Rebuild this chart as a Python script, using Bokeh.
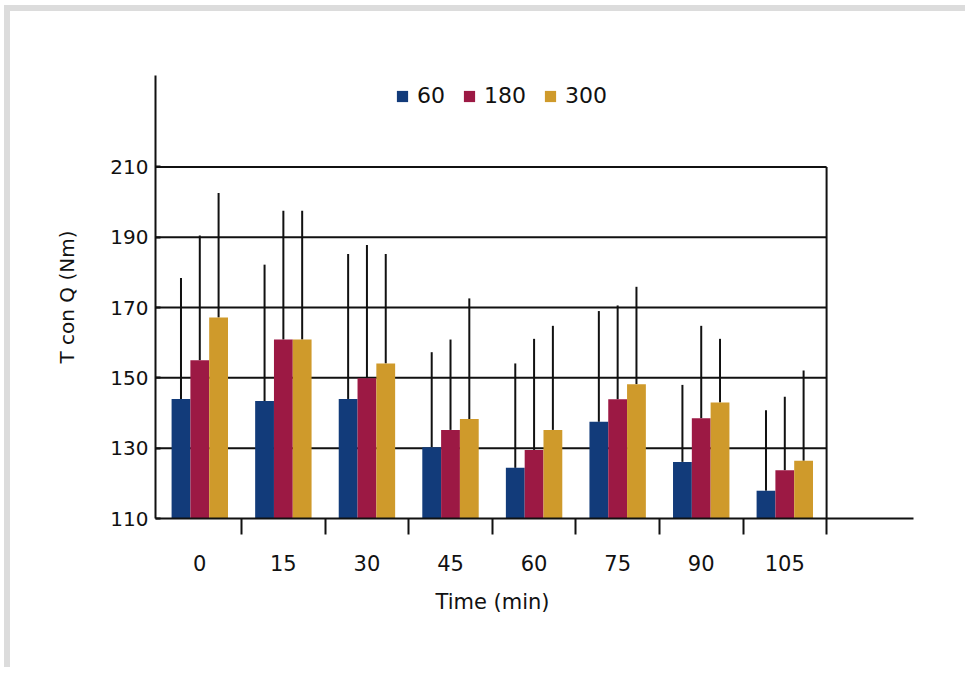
from bokeh.plotting import figure
from bokeh.models import FixedTicker, Legend, LegendItem, ColumnDataSource, Title
from bokeh.embed import file_html
from bokeh.resources import INLINE

# ---- data ----
times = ["0", "15", "30", "45", "60", "75", "90", "105"]
series = ["60", "180", "300"]
mean_60 = [144.0, 143.4, 144.0, 130.3, 124.4, 137.5, 126.1, 117.9]
mean_180 = [155.0, 160.9, 149.9, 135.2, 129.5, 143.9, 138.5, 123.7]
mean_300 = [167.2, 160.9, 154.1, 138.3, 135.2, 148.2, 143.0, 126.4]
sd_60 = [34.4, 38.8, 41.2, 27.0, 29.7, 31.5, 21.9, 22.9]
sd_180 = [35.5, 36.6, 37.9, 25.7, 31.6, 26.7, 26.3, 20.9]
sd_300 = [35.4, 36.6, 31.1, 34.3, 29.6, 27.7, 18.1, 25.7]
y_ticks = [110, 130, 150, 170, 190, 210]

colors = ["#123b7a", "#9c1944", "#cf9a2b"]
FONT = "DejaVu Sans"
INK = "#111111"

n = len(times)
centers = [i + 0.5 for i in range(n)]
bounds = [i + 1 for i in range(n)]
bw = 0.225
offsets = [-bw, 0.0, bw]
x_start, x_end = -0.03, n + 1.04

p = figure(width=961, height=662, x_range=(x_start, x_end), y_range=(y_ticks[0], 236),
           output_backend="svg", toolbar_location=None,
           min_border_left=145, min_border_right=58, min_border_top=64, min_border_bottom=155)
p.styles = {"margin-left": "4px", "margin-top": "5px",
            "border-left": "6px solid #dcdcdc", "border-top": "6px solid #dcdcdc"}
p.outline_line_color = None
p.xgrid.visible = False
p.ygrid.visible = False
p.background_fill_color = "white"
p.border_fill_color = "white"

# grid lines (to end of last category) and right frame line
p.segment(x0=[x_start] * (len(y_ticks) - 1), x1=[n] * (len(y_ticks) - 1), y0=y_ticks[1:], y1=y_ticks[1:],
          line_color=INK, line_width=2)
p.segment(x0=[n], x1=[n], y0=[y_ticks[0]], y1=[y_ticks[-1]], line_color=INK, line_width=2)

means = [mean_60, mean_180, mean_300]
sds = [sd_60, sd_180, sd_300]
items = []
for k in range(3):
    xs = [c + offsets[k] for c in centers]
    src = ColumnDataSource(dict(x=xs, top=means[k],
                                up=[m + s for m, s in zip(means[k], sds[k])]))
    p.segment(x0="x", x1="x", y0="top", y1="up", source=src, line_color=INK, line_width=2)
    r = p.vbar(x="x", top="top", bottom=y_ticks[0], width=bw, source=src,
               fill_color=colors[k], line_color=None)
    items.append(LegendItem(label=series[k], renderers=[r]))

legend = Legend(items=items, orientation="horizontal", location=(240, 410),
                label_text_font=FONT, label_text_font_size="22px", label_text_color=INK,
                glyph_width=14, glyph_height=14, label_standoff=8, spacing=17,
                padding=0, margin=0, border_line_color=None, background_fill_alpha=0,
                label_height=14)
p.add_layout(legend, "center")

# x axis
xa = p.xaxis[0]
xa.ticker = FixedTicker(ticks=centers, minor_ticks=bounds)
xa.major_label_overrides = {c: t for c, t in zip(centers, times)}
xa.major_tick_line_color = None
xa.major_tick_out = 0
xa.major_tick_in = 0
xa.minor_tick_line_color = INK
xa.minor_tick_line_width = 2
xa.minor_tick_out = 16
xa.minor_tick_in = 0
xa.axis_line_color = INK
xa.axis_line_width = 2
xa.major_label_text_font = FONT
xa.major_label_text_font_size = "21px"
xa.major_label_text_color = INK
xa.major_label_standoff = 20

xt = Title(text="Time (min)", align="left", offset=280, standoff=28,
           text_font=FONT, text_font_size="21px", text_font_style="normal", text_color=INK)
p.add_layout(xt, "below")

# y axis
ya = p.yaxis[0]
ya.ticker = FixedTicker(ticks=y_ticks, minor_ticks=[])
ya.major_tick_line_color = INK
ya.major_tick_line_width = 2
ya.major_tick_in = 5
ya.major_tick_out = 0
ya.axis_line_color = INK
ya.axis_line_width = 2
ya.major_label_text_font = FONT
ya.major_label_text_font_size = "20px"
ya.major_label_text_color = INK
ya.major_label_standoff = 7
ya.axis_label = "T con Q (Nm)"
ya.axis_label_text_font = FONT
ya.axis_label_text_font_size = "20px"
ya.axis_label_text_font_style = "normal"
ya.axis_label_text_color = INK
ya.axis_label_standoff = 28

open("out.html", "w").write(file_html(p, INLINE))
